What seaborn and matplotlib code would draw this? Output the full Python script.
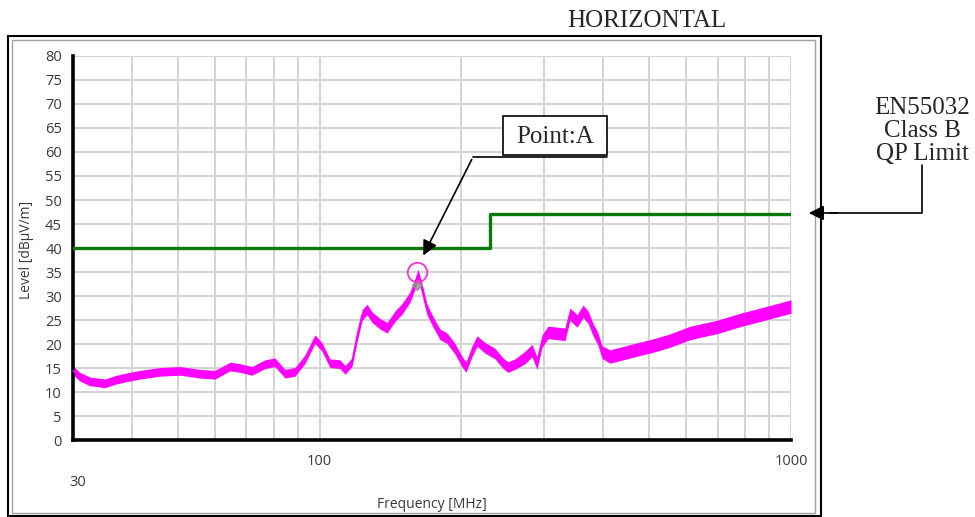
import numpy as np
import pandas as pd
import matplotlib
matplotlib.use("Agg")
import matplotlib.pyplot as plt
from matplotlib.patches import Rectangle, FancyArrowPatch
from matplotlib.lines import Line2D
import seaborn as sns

# ---------------- data ----------------
freq_mhz = [30.0, 31.0, 32.6, 35.1, 36.8, 38.7, 41.6, 45.9, 50.6, 55.8, 60.0,
            64.6, 67.8, 71.9, 76.6, 80.4, 84.5, 88.7, 93.1, 97.8, 101.2, 105.2,
            110.5, 113.3, 117.2, 120.1, 123.1, 126.1, 129.2, 134.4, 139.1, 144.6,
            149.6, 155.6, 159.4, 161.8, 165.0, 169.0, 174.1, 180.1, 186.4, 193.8,
            200.6, 204.6, 210.6, 215.8, 224.4, 235.6, 245.0, 251.0, 259.8, 272.8,
            282.3, 289.3, 296.5, 305.1, 320.4, 331.6, 339.8, 351.8, 362.2, 371.2,
            380.3, 389.7, 397.3, 413.2, 444.6, 478.3, 502.3, 550.0, 610.8, 700.0,
            779.7, 900.0, 1000.0]
level_db = [14.5, 13.2, 12.2, 11.8, 12.5, 13.0, 13.6, 14.2, 14.4, 13.8, 13.6,
            15.3, 15.0, 14.4, 15.8, 16.2, 13.8, 14.2, 16.8, 21.0, 19.4, 16.0,
            15.8, 14.6, 16.2, 21.5, 26.0, 27.2, 25.6, 24.2, 23.4, 25.8,
            27.3, 29.8, 32.5, 34.5, 31.5, 27.2, 24.6, 22.0, 21.2, 19.0,
            16.3, 15.2, 18.5, 20.6, 19.2, 18.0, 16.0, 15.2, 15.8, 17.2,
            18.6, 16.0, 20.6, 22.4, 22.2, 22.0, 26.2, 24.8, 26.8, 25.6,
            23.0, 21.0, 18.3, 17.4, 18.2, 19.0, 19.5, 20.6, 22.3, 23.6,
            25.0, 26.6, 27.8]
band_db = [0.9, 0.9, 0.9, 0.9, 0.9, 0.9, 0.9, 0.9, 0.9, 0.9, 0.9,
           0.9, 0.9, 0.9, 0.9, 0.9, 0.9, 0.9, 0.9, 0.9, 0.9, 0.9,
           0.9, 0.9, 0.9, 1.1, 1.1, 1.1, 1.1, 1.1, 1.1, 1.1,
           1.1, 1.1, 1.1, 1.1, 1.1, 1.1, 1.1, 1.1, 1.1, 1.1,
           1.1, 1.1, 1.1, 1.1, 1.1, 1.1, 1.1, 1.1, 1.1, 1.3,
           1.3, 1.3, 1.3, 1.3, 1.3, 1.3, 1.3, 1.3, 1.3, 1.3,
           1.3, 1.3, 1.3, 1.4, 1.4, 1.4, 1.4, 1.4, 1.4, 1.4,
           1.4, 1.4, 1.4]

limit_freq = [30, 230, 1000]
limit_level = [40, 47, 47]

peak_freq = 161.0
peak_level = 35.0
marker_level = 32.3

y_ticks = list(range(0, 85, 5))
x_ticks = [30, 40, 50, 60, 70, 80, 90, 100, 200, 300, 400, 500, 600, 700, 800, 900, 1000]
x_ticklabels = ["", "", "", "", "", "", "", "100", "", "", "", "", "", "", "", "", "1000"]

title_text = "HORIZONTAL"
point_label = "Point:A"
limit_label = "EN55032\nClass B\nQP Limit"

# ---------------- figure ----------------
sns.set_style("white")
plt.rcParams["font.family"] = ["Open Sans", "DejaVu Sans"]

W, H = 975, 517
fig = plt.figure(figsize=(W / 100, H / 100), dpi=100)

def fx(px):
    return px / W

def fy(py):
    return 1 - py / H

ax = fig.add_axes([fx(73), fy(440), fx(791) - fx(73), fy(56) - fy(440)])

df = pd.DataFrame({"freq": freq_mhz, "level": level_db, "band": band_db})
lim = pd.DataFrame({"freq": limit_freq, "level": limit_level})

ax.set_xscale("log")
ax.set_xlim(30, 1000)
ax.set_ylim(0, 80)

# grid
for yt in y_ticks[1:]:
    ax.axhline(yt, color="#d3d3d3", lw=1.4, zorder=0)
for xt in x_ticks[1:]:
    ax.axvline(xt, color="#d3d3d3", lw=1.4, zorder=0)

ax.fill_between(df["freq"], df["level"] - df["band"], df["level"] + df["band"],
                color="#ff00ff", lw=0, zorder=2)
sns.lineplot(data=df, x="freq", y="level", color="#ff00ff", lw=1.2, ax=ax, zorder=3,
             estimator=None)
sns.lineplot(data=lim, x="freq", y="level", color="#0b780b", lw=2.4, ax=ax,
             zorder=4, estimator=None, sort=False, drawstyle="steps-post")

# peak marker
ax.plot([peak_freq], [marker_level], marker="D", ms=5, color="#909090", alpha=0.8, zorder=5)
ax.plot([peak_freq], [peak_level], marker="o", ms=14, mfc="none", mec="#ff33cc", mew=1.3, zorder=6)

ax.set_yticks(y_ticks)
ax.set_xticks(x_ticks)
ax.set_xticklabels(x_ticklabels)
ax.xaxis.set_minor_locator(matplotlib.ticker.NullLocator())
ax.tick_params(axis="both", direction="out", length=5, width=2.2, color="black",
               labelsize=10.5, labelcolor="#3a3a3a")
ax.tick_params(axis="x", pad=5)
ax.tick_params(axis="y", pad=3)
for s in ["top", "right"]:
    ax.spines[s].set_visible(False)
for s in ["left", "bottom"]:
    ax.spines[s].set_linewidth(2.6)
    ax.spines[s].set_color("black")

ax.set_xlabel("")
ax.set_ylabel("")
fig.text(fx(78), fy(482), "30", ha="center", va="center", fontsize=10.5, color="#3a3a3a")
fig.text(fx(432), fy(504), "Frequency [MHz]", ha="center", va="center", fontsize=10, color="#3a3a3a")
fig.text(fx(27), fy(250), "Level [dBµV/m]", ha="center", va="center", rotation=90,
         fontsize=10, color="#3a3a3a")

# frames
fig.add_artist(Rectangle((fx(8), fy(516)), fx(821) - fx(8), fy(36) - fy(516),
                         transform=fig.transFigure, fill=False, ec="black", lw=1.5))
fig.add_artist(Rectangle((fx(12), fy(513)), fx(815) - fx(12), fy(40) - fy(513),
                         transform=fig.transFigure, fill=False, ec="#a0a0a0", lw=1.0))

serif = ["Liberation Serif", "DejaVu Serif"]
fig.text(fx(647), fy(21), title_text, ha="center", va="center", fontsize=18, family=serif)

# Point:A box and leader
fig.add_artist(Rectangle((fx(503), fy(155)), fx(607) - fx(503), fy(116) - fy(155),
                         transform=fig.transFigure, fill=True, fc="white", ec="black", lw=1.2, zorder=10))
fig.text(fx(555), fy(137), point_label, ha="center", va="center", fontsize=18, family=serif, zorder=11)
fig.add_artist(Line2D([fx(607), fx(473)], [fy(157), fy(157)], transform=fig.transFigure,
                      color="black", lw=1.2, zorder=10))
fig.add_artist(FancyArrowPatch((fx(473), fy(157)), (fx(422), fy(258)), transform=fig.transFigure,
                               arrowstyle="-|>,head_length=6,head_width=3", mutation_scale=1.5,
                               color="black", lw=1.2, zorder=10))

# limit label and leader
fig.text(fx(922), fy(131), limit_label, ha="center", va="center", fontsize=18,
         family=serif, linespacing=1.07)
fig.add_artist(Line2D([fx(922), fx(922), fx(830)], [fy(165), fy(213), fy(213)],
                      transform=fig.transFigure, color="black", lw=1.2))
fig.add_artist(FancyArrowPatch((fx(840), fy(213)), (fx(806), fy(213)), transform=fig.transFigure,
                               arrowstyle="-|>,head_length=6,head_width=3", mutation_scale=1.5,
                               color="black", lw=1.2))

fig.savefig("out.png", dpi=100, facecolor="white")
